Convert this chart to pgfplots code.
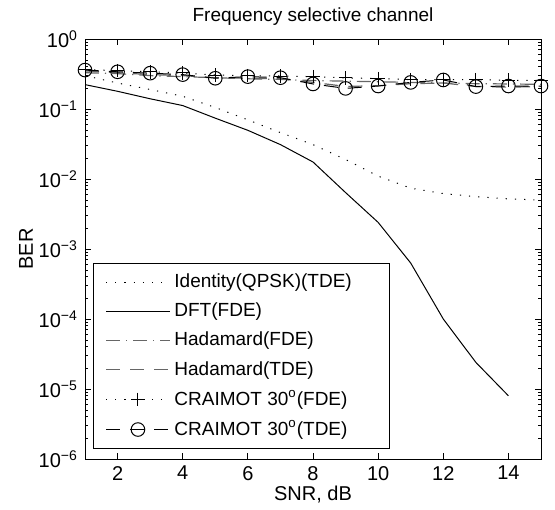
\documentclass[border=0pt]{standalone}
\usepackage{fontspec}
\setmainfont{Liberation Sans}
\usepackage{pgfplots}
\pgfplotsset{compat=1.18}
\definecolor{Had}{gray}{0.4}

\begin{document}
\begin{tikzpicture}
\begin{semilogyaxis}[
    name=ax,
    width=228pt, height=210pt,
    scale only axis,
    xmin=1, xmax=15,
    ymin=1e-6, ymax=1,
    xtick={2,4,...,14},
    minor x tick num=0,
    ytick={1e-6,1e-5,1e-4,1e-3,1e-2,1e-1,1},
    yticklabels={10\textsuperscript{−6},10\textsuperscript{−5},10\textsuperscript{−4},10\textsuperscript{−3},10\textsuperscript{−2},10\textsuperscript{−1},10\textsuperscript{0}},
    /pgf/number format/assume math mode=true,
    tick align=inside,
    major tick length=3pt,
    minor tick length=1.6pt,
    tick style={black, line width=0.4pt},
    axis line style={line width=0.5pt},
    ticklabel style={font=\fontsize{10}{12}\selectfont},
    title={Frequency selective channel},
    title style={font=\fontsize{9.5}{11}\selectfont, yshift=-3pt},
    xlabel={SNR, dB},
    ylabel={BER},
    label style={font=\fontsize{10}{12}\selectfont},
    xlabel style={yshift=4pt},
    ylabel style={yshift=-4pt},
    legend cell align=left,
    legend style={at={(0.0175,0.024)}, anchor=south west, draw=black,
        line width=0.5pt,
        font=\fontsize{9.5}{11.5}\selectfont, row sep=2.2pt,
        inner xsep=6pt, inner ysep=3pt},
    legend image code/.code={\draw[mark repeat=2,mark phase=2,#1] plot coordinates {(0cm,0cm) (0.56cm,0cm) (1.12cm,0cm)};},
]
% Identity(QPSK)(TDE)
\addplot[black, line width=0.5pt, dash pattern=on 0.6pt off 4pt] coordinates {
(1,0.30) (2,0.235) (3,0.19) (4,0.152) (5,0.105) (6,0.070) (7,0.046) (8,0.031)
(9,0.019) (10,0.011) (11,0.0074) (12,0.0062) (13,0.0056) (14,0.0052) (15,0.0050)};
\addlegendentry{Identity(QPSK)(TDE)\hspace*{11pt}}
% DFT(FDE)
\addplot[black, line width=0.5pt] coordinates {
(1,0.223) (2,0.179) (3,0.140) (4,0.112) (5,0.074) (6,0.0496) (7,0.031) (8,0.0175)
(9,0.0064) (10,0.0024) (11,6.3e-4) (12,1.0e-4) (13,2.4e-5) (14,8e-6)};
\addlegendentry{DFT(FDE)}
% Hadamard(FDE)
\addplot[Had, line width=0.6pt, dash pattern=on 7pt off 3pt on 0.6pt off 3pt] coordinates {
(1,0.33) (2,0.32) (3,0.30) (4,0.29) (5,0.28) (6,0.27) (7,0.265) (8,0.255)
(9,0.25) (10,0.245) (11,0.24) (12,0.235) (13,0.23) (14,0.228) (15,0.225)};
\addlegendentry{Hadamard(FDE)}
% Hadamard(TDE)
\addplot[Had, line width=0.6pt, dash pattern=on 7pt off 5pt] coordinates {
(1,0.35) (2,0.33) (3,0.31) (4,0.30) (5,0.28) (6,0.275) (7,0.27) (8,0.24)
(9,0.21) (10,0.215) (11,0.23) (12,0.235) (13,0.21) (14,0.205) (15,0.21)};
\addlegendentry{Hadamard(TDE)}
% CRAIMOT 30 (FDE)
\addplot[black, line width=0.5pt, dash pattern=on 0.6pt off 4pt, mark=+, mark size=3.4pt,
    mark options={solid}] coordinates {
(1,0.365) (2,0.353) (3,0.34) (4,0.327) (5,0.306) (6,0.30) (7,0.296) (8,0.29)
(9,0.278) (10,0.272) (11,0.263) (12,0.263) (13,0.262) (14,0.258) (15,0.255)};
\addlegendentry{CRAIMOT 30\textsuperscript{o}(FDE)}
% CRAIMOT 30 (TDE)
\addplot[black, line width=0.5pt, dash pattern=on 7pt off 5pt, mark=o, mark size=3.4pt,
    mark options={solid}] coordinates {
(1,0.36) (2,0.34) (3,0.325) (4,0.31) (5,0.275) (6,0.29) (7,0.28) (8,0.228)
(9,0.197) (10,0.213) (11,0.24) (12,0.26) (13,0.209) (14,0.213) (15,0.213)};
\addlegendentry{CRAIMOT 30\textsuperscript{o}(TDE)}
\end{semilogyaxis}
\pgfresetboundingbox
\path ([shift={(-42.5pt,-25pt)}]ax.south west) rectangle ([shift={(7pt,19.5pt)}]ax.north east);
\end{tikzpicture}
\end{document}
